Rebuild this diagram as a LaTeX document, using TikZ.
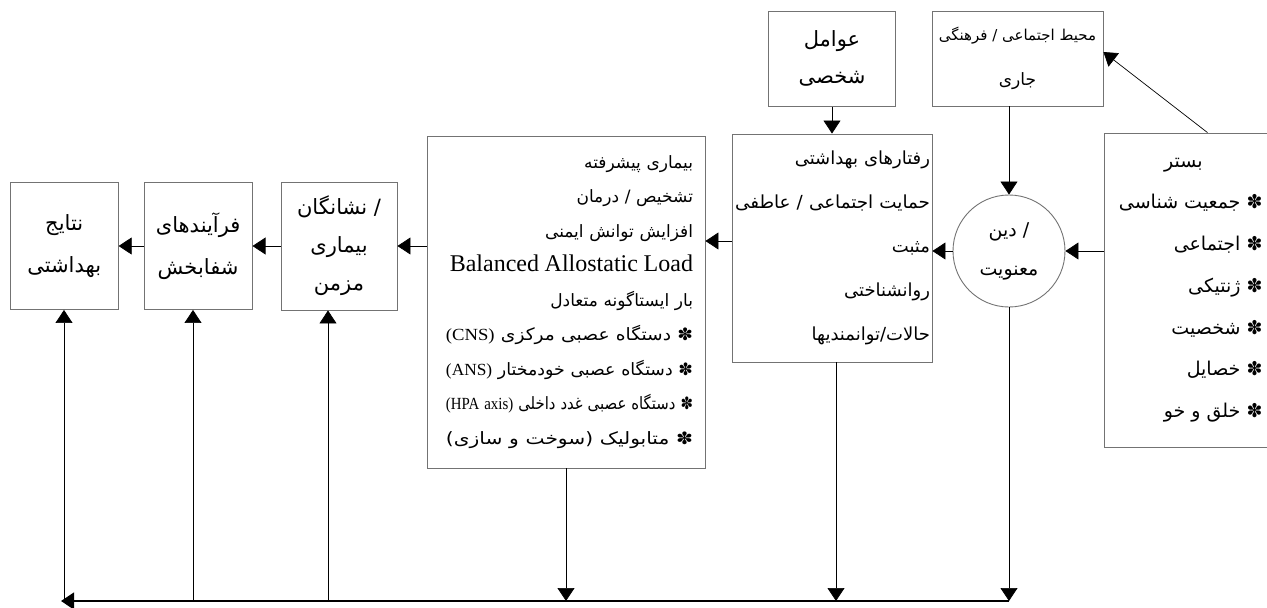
\documentclass[tikz,border=0pt]{standalone}
\usepackage{fontspec}
\usepackage{graphicx}
\setmainfont{Liberation Serif}
\newfontfamily\farsi[Script=Arabic]{DejaVu Sans}
\newfontfamily\lat{Liberation Serif}
\TeXXeTstate=1
\usetikzlibrary{arrows.meta,positioning}
\newcommand{\fa}[1]{{\farsi\beginR #1\endR}}
\newcommand{\la}[1]{\beginL{\lat #1}\endL}
\newcommand{\fitline}[2][247pt]{\resizebox{#1}{\height}{#2}}

\begin{document}
\begin{tikzpicture}
  [
   x=1pt,y=-1pt,
   box/.style={rectangle,draw=black!55,line width=0.9pt,inner sep=0pt,align=center,
               font=\fontsize{21}{42}\selectfont},
   rel/.style={circle,draw=black!55,line width=0.9pt,inner sep=0pt,minimum size=112pt,
               align=center,font=\fontsize{19}{39}\selectfont},
   link/.style={-{Triangle[length=13pt,width=17pt]},line width=0.7pt},
   bus/.style={-{Triangle[length=13pt,width=17pt]},line width=1.4pt}
  ]
   \useasboundingbox (0,0) rectangle (1267,608);

   % left row
   \node[box,minimum width=116pt,minimum height=128pt,font=\fontsize{21}{38}\selectfont]
        (chron) at (339,246)
        {\fa{/ نشانگان}\\\fa{بیماری}\\\fa{مزمن}};
   \node[box,minimum width=108pt,minimum height=127pt] (heal) [left=28pt of chron]
        {\fa{فرآیندهای}\\\fa{شفابخش}};
   \node[box,minimum width=108pt,minimum height=127pt] (res) [left=25pt of heal]
        {\fa{نتایج}\\\fa{بهداشتی}};

   % big box
   \node[box,minimum width=278pt,minimum height=332pt,text width=254pt,align=right,
         font=\fontsize{17}{34.5}\selectfont] (adv) at (566,302)
        {\fa{بیماری پیشرفته}\\
         \fa{تشخیص / درمان}\\
         \fa{افزایش توانش ایمنی}\\
         {\lat\fontsize{24}{34.5}\selectfont Balanced Allostatic Load}\\
         \fa{بار ایستاگونه متعادل}\\
         \fitline{\fa{✽ دستگاه عصبی مرکزی \la{(CNS)}}}\\
         \fitline{\fa{✽ دستگاه عصبی خودمختار \la{(ANS)}}}\\
         \fitline{\fa{✽ دستگاه عصبی غدد داخلی \la{(HPA axis)}}}\\
         \fitline{\fa{✽ متابولیک (سوخت و سازی)}}};

   % behaviour box and its inputs
   \node[box,minimum width=200pt,minimum height=228pt,text width=196pt,align=right,
         font=\fontsize{18}{44}\selectfont] (beh) at (832,248)
        {\fa{رفتارهای بهداشتی}\\
         \fitline[195pt]{\fa{حمایت اجتماعی / عاطفی}}\\
         \fa{مثبت}\\
         \fa{روانشناختی}\\
         \fa{حالات/توانمندیها}};
   \node[box,minimum width=127pt,minimum height=95pt,font=\fontsize{21}{37}\selectfont]
        (pers) [above=27pt of beh]
        {\fa{عوامل}\\\fa{شخصی}};
   \node[box,minimum width=171pt,minimum height=95pt,font=\fontsize{15}{45}\selectfont]
        (env) at (1017.5,58.5)
        {\fa{محیط اجتماعی / فرهنگی}\\{\fontsize{17}{45}\selectfont\fa{جاری}}};
   \node[rel] (relig) at (1009,251) {\fa{/ دین}\\\fa{معنویت}};

   % context box, open at the page edge
   \node[box,minimum height=314pt,anchor=west,font=\fontsize{19}{41.7}\selectfont]
        (ctx) at (1104,290)
        {\parbox{158pt}{\raggedleft
         \makebox[158pt]{\fa{بستر}}\\
         \fa{✽ جمعیت شناسی}\\
         \fa{✽ اجتماعی}\\
         \fa{✽ ژنتیکی}\\
         \fa{✽ شخصیت}\\
         \fa{✽ خصایل}\\
         \fa{✽ خلق و خو}}\hspace{18pt}};

   % flows
   \draw[link] (heal.west) -- (res.east);
   \draw[link] (chron.west) -- (heal.west -| heal.east);
   \draw[link] (adv.west |- chron.east) -- (chron.east);
   \path ([yshift=7pt]beh.west) coordinate (bw);
   \draw[link] (bw) -- (bw -| adv.east);
   \draw[link] (relig.west) -- (relig.west -| beh.east);
   \draw[link] (ctx.west |- relig.east) -- (relig.east);
   \draw[link] (relig.north |- env.south) -- (relig.north);
   \draw[link] (pers.south) -- (pers.south |- beh.north);
   \draw[link] ([xshift=15pt]ctx.north) -- ([yshift=6.5pt]env.east);

   % feedback bus
   \coordinate (busE) at (relig.south |- 0,601);
   \coordinate (busW) at (61,601);
   \coordinate (b1) at (64,601);
   \coordinate (b2) at (193,601);
   \coordinate (b3) at (328,601);
   \draw[link] (relig.south) -- (busE);
   \draw[link] ([xshift=4pt]beh.south) -- ([xshift=4pt]beh.south |- busE);
   \draw[link] (adv.south) -- (adv.south |- busE);
   \draw[bus] (busE) -- (busW);
   \draw[link] (b1) -- (b1 |- res.south);
   \draw[link] (b2) -- (b2 |- heal.south);
   \draw[link] (b3) -- (b3 |- chron.south);

\end{tikzpicture}
\end{document}
